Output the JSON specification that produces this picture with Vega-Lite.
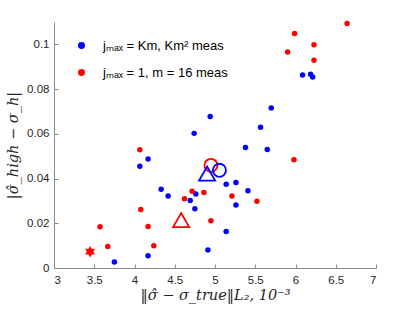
{
  "$schema": "https://vega.github.io/schema/vega-lite/v6.json",
  "width": 322,
  "height": 246,
  "autosize": "none",
  "padding": {"left": 54, "top": 22, "right": 39, "bottom": 44},
  "background": "white",
  "config": {
    "view": {"stroke": null},
    "axis": {
      "grid": false,
      "domainColor": "#8a8a8a",
      "tickColor": "#8a8a8a",
      "tickSize": -4,
      "labelFont": "Liberation Sans",
      "labelFontSize": 11.5,
      "labelColor": "#262626",
      "titleFont": "DejaVu Serif",
      "titleFontStyle": "italic",
      "titleFontWeight": "normal",
      "titleFontSize": 14.5,
      "titleColor": "#262626"
    },
    "legend": {
      "labelFont": "Liberation Sans",
      "labelFontSize": 13,
      "labelColor": "#000000"
    }
  },
  "data": {
    "values": [
      {"x": 4.94, "y": 0.0677, "series": "jₘₐₓ = Km, Km² meas", "marker": "dot"},
      {"x": 4.741, "y": 0.0602, "series": "jₘₐₓ = Km, Km² meas", "marker": "dot"},
      {"x": 6.088, "y": 0.0863, "series": "jₘₐₓ = Km, Km² meas", "marker": "dot"},
      {"x": 6.188, "y": 0.0866, "series": "jₘₐₓ = Km, Km² meas", "marker": "dot"},
      {"x": 6.213, "y": 0.0854, "series": "jₘₐₓ = Km, Km² meas", "marker": "dot"},
      {"x": 5.699, "y": 0.0716, "series": "jₘₐₓ = Km, Km² meas", "marker": "dot"},
      {"x": 5.566, "y": 0.0629, "series": "jₘₐₓ = Km, Km² meas", "marker": "dot"},
      {"x": 4.169, "y": 0.0487, "series": "jₘₐₓ = Km, Km² meas", "marker": "dot"},
      {"x": 4.066, "y": 0.0455, "series": "jₘₐₓ = Km, Km² meas", "marker": "dot"},
      {"x": 5.139, "y": 0.0374, "series": "jₘₐₓ = Km, Km² meas", "marker": "dot"},
      {"x": 4.331, "y": 0.0352, "series": "jₘₐₓ = Km, Km² meas", "marker": "dot"},
      {"x": 4.418, "y": 0.0322, "series": "jₘₐₓ = Km, Km² meas", "marker": "dot"},
      {"x": 4.762, "y": 0.0331, "series": "jₘₐₓ = Km, Km² meas", "marker": "dot"},
      {"x": 4.692, "y": 0.0302, "series": "jₘₐₓ = Km, Km² meas", "marker": "dot"},
      {"x": 4.75, "y": 0.0265, "series": "jₘₐₓ = Km, Km² meas", "marker": "dot"},
      {"x": 5.139, "y": 0.0163, "series": "jₘₐₓ = Km, Km² meas", "marker": "dot"},
      {"x": 4.912, "y": 0.0081, "series": "jₘₐₓ = Km, Km² meas", "marker": "dot"},
      {"x": 4.169, "y": 0.0055, "series": "jₘₐₓ = Km, Km² meas", "marker": "dot"},
      {"x": 3.75, "y": 0.0027, "series": "jₘₐₓ = Km, Km² meas", "marker": "dot"},
      {"x": 5.379, "y": 0.0539, "series": "jₘₐₓ = Km, Km² meas", "marker": "dot"},
      {"x": 5.649, "y": 0.053, "series": "jₘₐₓ = Km, Km² meas", "marker": "dot"},
      {"x": 5.26, "y": 0.0382, "series": "jₘₐₓ = Km, Km² meas", "marker": "dot"},
      {"x": 5.409, "y": 0.0345, "series": "jₘₐₓ = Km, Km² meas", "marker": "dot"},
      {"x": 5.26, "y": 0.0282, "series": "jₘₐₓ = Km, Km² meas", "marker": "dot"},
      {"x": 6.641, "y": 0.1093, "series": "jₘₐₓ = 1, m = 16 meas", "marker": "dot"},
      {"x": 5.989, "y": 0.1049, "series": "jₘₐₓ = 1, m = 16 meas", "marker": "dot"},
      {"x": 6.23, "y": 0.0998, "series": "jₘₐₓ = 1, m = 16 meas", "marker": "dot"},
      {"x": 5.902, "y": 0.0966, "series": "jₘₐₓ = 1, m = 16 meas", "marker": "dot"},
      {"x": 6.23, "y": 0.0929, "series": "jₘₐₓ = 1, m = 16 meas", "marker": "dot"},
      {"x": 5.981, "y": 0.0484, "series": "jₘₐₓ = 1, m = 16 meas", "marker": "dot"},
      {"x": 4.066, "y": 0.0529, "series": "jₘₐₓ = 1, m = 16 meas", "marker": "dot"},
      {"x": 4.716, "y": 0.0343, "series": "jₘₐₓ = 1, m = 16 meas", "marker": "dot"},
      {"x": 4.862, "y": 0.0338, "series": "jₘₐₓ = 1, m = 16 meas", "marker": "dot"},
      {"x": 4.621, "y": 0.031, "series": "jₘₐₓ = 1, m = 16 meas", "marker": "dot"},
      {"x": 5.21, "y": 0.0322, "series": "jₘₐₓ = 1, m = 16 meas", "marker": "dot"},
      {"x": 5.521, "y": 0.0298, "series": "jₘₐₓ = 1, m = 16 meas", "marker": "dot"},
      {"x": 4.078, "y": 0.0262, "series": "jₘₐₓ = 1, m = 16 meas", "marker": "dot"},
      {"x": 4.949, "y": 0.0211, "series": "jₘₐₓ = 1, m = 16 meas", "marker": "dot"},
      {"x": 3.572, "y": 0.0184, "series": "jₘₐₓ = 1, m = 16 meas", "marker": "dot"},
      {"x": 4.169, "y": 0.0186, "series": "jₘₐₓ = 1, m = 16 meas", "marker": "dot"},
      {"x": 3.668, "y": 0.0096, "series": "jₘₐₓ = 1, m = 16 meas", "marker": "dot"},
      {"x": 4.24, "y": 0.01, "series": "jₘₐₓ = 1, m = 16 meas", "marker": "dot"},
      {"x": 4.95, "y": 0.0459, "series": "jₘₐₓ = 1, m = 16 meas", "marker": "circle"},
      {"x": 5.055, "y": 0.0437, "series": "jₘₐₓ = Km, Km² meas", "marker": "circle"},
      {"x": 4.902, "y": 0.0422, "series": "jₘₐₓ = Km, Km² meas", "marker": "triangle"},
      {"x": 4.58, "y": 0.0214, "series": "jₘₐₓ = 1, m = 16 meas", "marker": "triangle"},
      {"x": 3.448, "y": 0.0073, "series": "jₘₐₓ = 1, m = 16 meas", "marker": "star"}
    ]
  },
  "layer": [
    {
      "transform": [{"filter": "datum.marker === 'dot'"}],
      "mark": {"type": "point", "filled": true, "size": 30, "opacity": 1, "strokeWidth": 0},
      "encoding": {
        "x": {"field": "x", "type": "quantitative",
          "scale": {"domain": [3, 7], "nice": false, "zero": false},
          "axis": {"values": [3, 3.5, 4, 4.5, 5, 5.5, 6, 6.5, 7], "format": "~g", "labelPadding": 10,
            "title": "‖σ̂ − σ_true‖L₂, 10⁻³", "titleY": 31, "titleBaseline": "alphabetic"}},
        "y": {"field": "y", "type": "quantitative",
          "scale": {"domain": [0, 0.11], "nice": false, "zero": false},
          "axis": {"values": [0, 0.02, 0.04, 0.06, 0.08, 0.1], "format": "~g", "labelPadding": 9,
            "title": "|σ̂_high − σ_h|", "titleX": -41, "titleBaseline": "middle"}},
        "color": {"field": "series", "type": "nominal",
          "scale": {"domain": ["jₘₐₓ = Km, Km² meas", "jₘₐₓ = 1, m = 16 meas"], "range": ["#0000ff", "#ff0000"]},
          "legend": {"title": null, "orient": "none", "legendX": 21, "legendY": 17, "padding": 0,
            "symbolSize": 30, "symbolType": "circle", "rowPadding": 13, "labelOffset": 15}}
      }
    },
    {
      "transform": [{"filter": "datum.marker === 'circle' || datum.marker === 'triangle'"}],
      "mark": {"type": "point", "filled": false, "strokeWidth": 1.8, "opacity": 1},
      "encoding": {
        "x": {"field": "x", "type": "quantitative"},
        "y": {"field": "y", "type": "quantitative"},
        "size": {"field": "marker", "type": "nominal", "scale": {"domain": ["circle", "triangle"], "range": [170, 260]}, "legend": null},
        "shape": {"field": "marker", "type": "nominal", "scale": {"domain": ["circle", "triangle"], "range": ["circle", "triangle-up"]}, "legend": null},
        "stroke": {"field": "series", "type": "nominal",
          "scale": {"domain": ["jₘₐₓ = Km, Km² meas", "jₘₐₓ = 1, m = 16 meas"], "range": ["#0000ff", "#ff0000"]}, "legend": null}
      }
    },
    {
      "transform": [{"filter": "datum.marker === 'star'"}],
      "mark": {"type": "point", "filled": true, "size": 130, "opacity": 1, "color": "#ff0000", "strokeWidth": 0,
        "shape": "M0,-1L0.866,0.5L-0.866,0.5Z M0,1L-0.866,-0.5L0.866,-0.5Z"},
      "encoding": {
        "x": {"field": "x", "type": "quantitative"},
        "y": {"field": "y", "type": "quantitative"}
      }
    }
  ]
}
